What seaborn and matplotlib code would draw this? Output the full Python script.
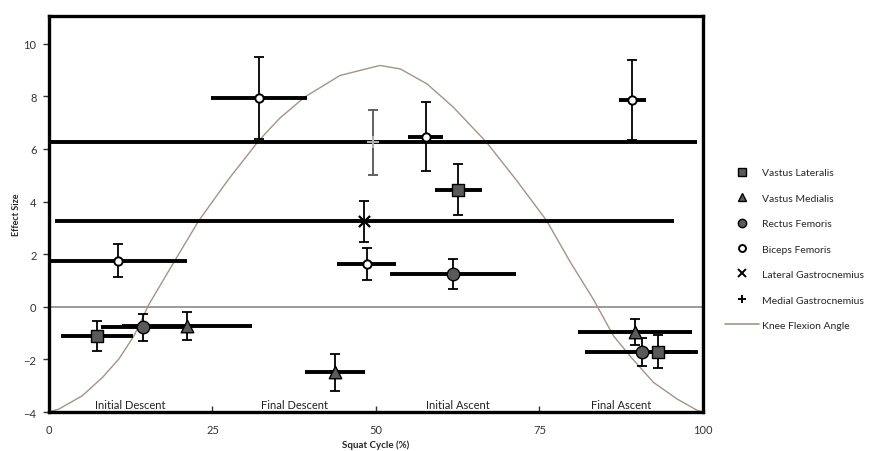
import matplotlib
matplotlib.use("Agg")
import matplotlib.pyplot as plt
import seaborn as sns
import numpy as np
import pandas as pd
from matplotlib.lines import Line2D

# ---------------- data ----------------
# Knee flexion angle curve (scaled onto effect-size axis)
knee_x = [0.0, 1.5, 5.1, 8.2, 10.7, 13.0, 15.3, 19.4, 22.9, 27.5, 32.1, 35.3, 39.1, 44.5,
          50.6, 53.7, 57.8, 61.8, 66.9, 71.5, 76.1, 79.7, 83.2, 86.3, 88.8, 92.4, 96.0, 99.2, 100.0]
knee_y = [-4.0, -3.89, -3.38, -2.68, -1.98, -1.1, 0.1, 1.82, 3.27, 4.86, 6.32, 7.17, 7.97, 8.79,
          9.17, 9.04, 8.47, 7.59, 6.25, 4.8, 3.27, 1.7, 0.3, -1.1, -1.86, -2.87, -3.5, -3.95, -4.0]

# Vastus Lateralis
vl_x = [7.4, 62.6, 93.1]
vl_y = [-1.12, 4.45, -1.71]
vl_xerr = [5.5, 3.6, 5.0]
vl_yerr = [0.56, 0.97, 0.62]

# Vastus Medialis
vm_x = [21.1, 43.7, 89.6]
vm_y = [-0.72, -2.49, -0.97]
vm_xerr = [10.0, 4.6, 8.75]
vm_yerr = [0.53, 0.70, 0.50]

# Rectus Femoris
rf_x = [14.4, 61.8, 90.6]
rf_y = [-0.78, 1.25, -1.71]
rf_xerr = [6.5, 9.6, 8.6]
rf_yerr = [0.52, 0.58, 0.54]

# Biceps Femoris
bf_x = [10.6, 32.1, 48.6, 57.6, 89.2]
bf_y = [1.75, 7.94, 1.63, 6.47, 7.84]
bf_xerr = [10.5, 7.3, 4.5, 2.7, 2.05]
bf_yerr = [0.63, 1.56, 0.60, 1.32, 1.52]

# Lateral Gastrocnemius
lg_x = [48.2]
lg_y = [3.24]
lg_xerr = [47.3]
lg_yerr = [0.78]

# Medial Gastrocnemius
mg_x = [49.6]
mg_y = [6.25]
mg_xerr = [49.5]
mg_yerr = [1.24]

phase_labels = ["Initial Descent", "Final Descent", "Initial Ascent", "Final Ascent"]
phase_x = [12.5, 37.5, 62.5, 87.5]

x_ticks = [0, 25, 50, 75, 100]
y_ticks = [-4, -2, 0, 2, 4, 6, 8, 10]

# ---------------- style ----------------
sns.set_style("white")
plt.rcParams["font.family"] = ["Lato", "DejaVu Sans"]

fig = plt.figure(figsize=(8.78, 4.52), dpi=100)
ax = fig.add_axes([49 / 878, 1 - 413 / 452, (703 - 49) / 878, (413 - 17) / 452])

# zero line
ax.axhline(0, color="#8a8a8a", lw=1.2, zorder=1)

# knee curve
knee_df = pd.DataFrame({"x": knee_x, "y": knee_y})
sns.lineplot(data=knee_df, x="x", y="y", ax=ax, color="#a39488", lw=1.0, zorder=2)

series = [
    ("Vastus Lateralis", vl_x, vl_y, vl_xerr, vl_yerr, "s", "#5a5a5a", "black", 9, 1.0),
    ("Vastus Medialis", vm_x, vm_y, vm_xerr, vm_yerr, "^", "#5a5a5a", "black", 9, 1.0),
    ("Rectus Femoris", rf_x, rf_y, rf_xerr, rf_yerr, "o", "#5a5a5a", "black", 9, 1.0),
    ("Biceps Femoris", bf_x, bf_y, bf_xerr, bf_yerr, "o", "white", "black", 6, 1.4),
    ("Lateral Gastrocnemius", lg_x, lg_y, lg_xerr, lg_yerr, "x", "black", "black", 8, 1.6),
    ("Medial Gastrocnemius", mg_x, mg_y, mg_xerr, mg_yerr, "+", "#b0b0b0", "#b0b0b0", 9, 1.5),
]

for name, xs, ys, xe, ye, mk, fc, ec, ms, mew in series:
    # horizontal (phase) bars: thick, no caps
    ax.errorbar(xs, ys, xerr=xe, fmt="none", ecolor="black", elinewidth=2.8, capsize=0, zorder=3)
    # vertical error bars: thin with caps
    vcol = "#555555" if name == "Medial Gastrocnemius" else "black"
    ax.errorbar(xs, ys, yerr=ye, fmt="none", ecolor=vcol, elinewidth=1.3, capsize=3.5,
                capthick=1.3, zorder=4)
    df = pd.DataFrame({"x": xs, "y": ys})
    if mk in ("x", "+"):
        sns.scatterplot(data=df, x="x", y="y", ax=ax, marker=mk, s=ms ** 2, color=fc,
                        linewidth=mew, zorder=5)
    else:
        sns.scatterplot(data=df, x="x", y="y", ax=ax, marker=mk, s=ms ** 2, color=fc,
                        edgecolor=ec, linewidth=mew, zorder=5)

# phase labels
for lab, px in zip(phase_labels, phase_x):
    ax.text(px, -3.72, lab, ha="center", va="center", fontsize=8, color="#222222")

ax.set_xlim(0, 100)
ax.set_ylim(-4, 11.05)
ax.set_xticks(x_ticks)
ax.set_yticks(y_ticks)
ax.tick_params(axis="x", direction="in", length=4, width=1, pad=9, labelsize=8, colors="#333333")
ax.tick_params(axis="y", direction="out", length=4, width=1, pad=5, labelsize=8, colors="#333333")
ax.tick_params(left=True, bottom=True)

ax.set_xlabel("Squat Cycle (%)", fontsize=7, fontweight="bold", labelpad=3)
ax.set_ylabel("Effect Size", fontsize=6.5, fontweight="bold", labelpad=1.5)

for sp in ax.spines.values():
    sp.set_visible(True)
    sp.set_color("black")
    sp.set_linewidth(2.4)

# legend
handles = [
    Line2D([], [], ls="none", marker="s", ms=6, mfc="#5a5a5a", mec="black"),
    Line2D([], [], ls="none", marker="^", ms=6, mfc="#5a5a5a", mec="black"),
    Line2D([], [], ls="none", marker="o", ms=6, mfc="#5a5a5a", mec="black"),
    Line2D([], [], ls="none", marker="o", ms=5, mfc="white", mec="black", mew=1.4),
    Line2D([], [], ls="none", marker="x", ms=6, color="black", mew=1.4),
    Line2D([], [], ls="none", marker="+", ms=6, color="black", mew=1.4),
    Line2D([], [], color="#a39488", lw=1.2),
]
labels = [s[0] for s in series] + ["Knee Flexion Angle"]
fig.legend(handles, labels, loc="center left", bbox_to_anchor=(725 / 878, 1 - 250 / 452),
           bbox_transform=fig.transFigure, frameon=False, fontsize=7.5, labelspacing=1.55,
           handlelength=3.3, handletextpad=0.3, borderpad=0, borderaxespad=0)

fig.savefig("out.png", dpi=100)
